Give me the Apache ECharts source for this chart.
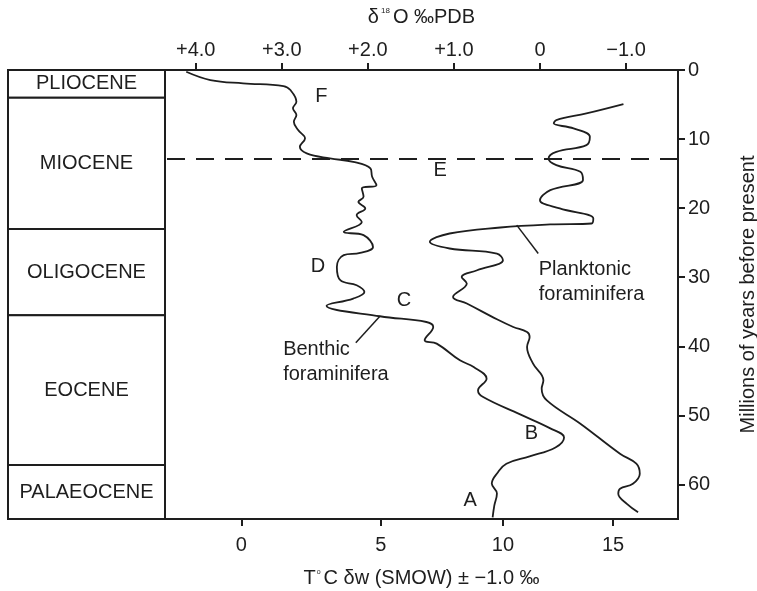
<!DOCTYPE html>
<html>
<head>
<meta charset="utf-8">
<script src="https://cdn.jsdelivr.net/npm/echarts@6/dist/echarts.min.js"></script>
<style>
  html, body { margin: 0; padding: 0; background: #fff; }
  #chart { width: 757px; height: 591px; }
</style>
</head>
<body>
<div id="chart"></div>
<script>
// Oxygen-isotope record (δ18O ‰ PDB) of foraminifera through the Cenozoic, age in Ma
const benthicO18 = [4.11, 3.83, 3.45, 2.98, 2.90, 2.83, 2.87, 2.83, 2.86, 2.81, 2.73, 2.79, 2.71, 2.44, 2.17, 1.97, 1.95, 1.90, 2.07, 2.05, 2.11, 2.03, 2.13, 2.07, 2.28, 2.05, 1.94, 2.09, 2.28, 2.36, 2.32, 2.13, 2.04, 2.17, 2.48, 1.86, 1.32, 1.24, 1.34, 1.20, 0.93, 0.77, 0.62, 0.72, 0.66, 0.23, -0.12, -0.28, -0.18, 0.12, 0.39, 0.49, 0.56, 0.50, 0.53, 0.55];
const benthicAge = [0.25, 1.45, 1.93, 2.32, 2.90, 4.59, 5.55, 6.52, 7.49, 8.70, 9.90, 11.12, 12.07, 12.80, 13.29, 14.25, 15.46, 16.67, 17.14, 18.36, 19.09, 20.04, 21.01, 21.99, 23.43, 23.91, 25.61, 26.48, 26.81, 28.51, 30.43, 31.16, 32.13, 33.09, 34.13, 35.65, 36.48, 37.20, 39.13, 39.61, 42.03, 43.00, 44.68, 46.38, 47.35, 49.86, 51.88, 53.19, 54.64, 55.94, 57.00, 58.26, 59.86, 61.30, 63.04, 64.78];

const planktonicO18 = [-0.97, -0.54, -0.19, -0.16, -0.39, -0.58, -0.54, -0.19, -0.10, -0.19, -0.47, -0.50, -0.12, 0.00, -0.23, -0.62, -0.60, -0.12, 0.46, 1.05, 1.28, 1.05, 0.50, 0.43, 0.73, 0.91, 0.85, 1.01, 0.85, 0.50, 0.31, 0.15, 0.12, 0.15, 0.08, -0.04, -0.02, -0.08, -0.47, -0.93, -1.12, -1.16, -1.08, -0.93, -0.91, -1.01, -1.14];
const planktonicAge = [4.93, 6.28, 7.25, 7.72, 8.45, 9.67, 10.87, 11.84, 12.80, 13.77, 14.74, 15.94, 17.39, 18.84, 20.04, 21.49, 22.22, 22.36, 22.80, 23.67, 24.88, 25.84, 26.57, 27.54, 28.99, 29.96, 30.91, 32.86, 33.81, 36.09, 37.20, 37.93, 38.65, 40.10, 42.51, 44.93, 46.13, 47.83, 51.20, 55.55, 57.00, 58.45, 59.90, 60.62, 61.35, 62.80, 64.01];

// Epochs (Ma)
const epochNames = ['PLIOCENE', 'MIOCENE', 'OLIGOCENE', 'EOCENE', 'PALAEOCENE'];
const epochStart = [0, 4, 23, 35.5, 57.2];
const epochEnd = [4, 23, 35.5, 57.2, 65];

// Axis ticks
const o18Ticks = [4, 3, 2, 1, 0, -1];
const o18TickLabels = ['+4.0', '+3.0', '+2.0', '+1.0', '0', '\u22121.0'];
const tempTickAt = [3.47, 1.85, 0.43, -0.85];   // δ18O equivalent of each temperature
const tempTickLabels = ['0', '5', '10', '15'];

// Lettered events and the mid-Miocene marker
const eventLetters = ['F', 'E', 'D', 'C', 'B', 'A'];
const eventO18 = [2.54, 1.16, 2.58, 1.58, 0.10, 0.81];
const eventAge = [3.9, 14.6, 28.4, 33.3, 52.6, 62.3];
const markerAge = 12.9;

// Curve captions with their leader lines
const captionText = ['Benthic\nforaminifera', 'Planktonic\nforaminifera'];
const captionO18 = [2.99, 0.02];
const captionAge = [42.2, 30.7];
const leaderO18 = [[1.86, 2.14], [0.27, 0.02]];
const leaderAge = [[35.65, 39.5], [22.46, 26.57]];

const INK = '#1e1e1e';
const FONT = '"Liberation Sans", Arial, sans-serif';
const pairs = (xs, ys) => xs.map((x, i) => [x, ys[i]]);
const nearest = (arr, v) => {
  let best = 0;
  arr.forEach((a, i) => { if (Math.abs(a - v) < Math.abs(arr[best] - v)) best = i; });
  return best;
};

const X_MIN = -1.604, X_MAX = 4.357;
const chart = echarts.init(document.getElementById('chart'), null, { renderer: 'canvas' });

const curveStyle = { color: INK, width: 1.8 };
const axisLineStyle = { show: true, onZero: false, lineStyle: { color: INK, width: 2 } };

chart.setOption({
  animation: false,
  backgroundColor: '#fff',
  textStyle: { fontFamily: FONT, color: INK },
  grid: [
    { left: 165, right: 79, top: 70, bottom: 72, outerBoundsMode: 'none', containLabel: false,
      show: true, borderColor: INK, borderWidth: 2, backgroundColor: 'transparent' },
    { left: 8, width: 157, top: 70, bottom: 72, outerBoundsMode: 'none', containLabel: false }
  ],
  xAxis: [
    {
      gridIndex: 0, type: 'value', position: 'top', inverse: true, min: X_MIN, max: X_MAX,
      axisLine: axisLineStyle,
      axisTick: { show: true, length: 7, lineStyle: { color: INK, width: 2 }, customValues: o18Ticks },
      axisLabel: {
        show: true, margin: 10, fontSize: 20, color: INK, fontFamily: FONT,
        customValues: o18Ticks,
        formatter: v => o18TickLabels[nearest(o18Ticks, v)]
      },
      splitLine: { show: false },
      name: '{a|\u03b4}{s|18}{a|O \u2030PDB}',
      nameLocation: 'middle', nameGap: 43,
      nameTextStyle: {
        rich: {
          a: { fontSize: 20, color: INK, fontFamily: FONT },
          s: { fontSize: 8, color: INK, fontFamily: FONT, padding: [0, 3, 12, 2] }
        }
      }
    },
    {
      gridIndex: 0, type: 'value', position: 'bottom', inverse: true, min: X_MIN, max: X_MAX,
      axisLine: axisLineStyle,
      axisTick: { show: true, length: 7, lineStyle: { color: INK, width: 2 }, customValues: tempTickAt },
      axisLabel: {
        show: true, margin: 16, fontSize: 20, color: INK, fontFamily: FONT,
        customValues: tempTickAt,
        formatter: v => tempTickLabels[nearest(tempTickAt, v)]
      },
      splitLine: { show: false },
      name: '{a|T}{s|o}{a|C \u03b4w (SMOW) \u00b1 \u22121.0 \u2030}',
      nameLocation: 'middle', nameGap: 49,
      nameTextStyle: {
        rich: {
          a: { fontSize: 20, color: INK, fontFamily: FONT },
          s: { fontSize: 7, color: INK, fontFamily: FONT, padding: [0, 3, 12, 1] }
        }
      }
    },
    { gridIndex: 1, type: 'value', min: 0, max: 1, show: false }
  ],
  yAxis: [
    {
      gridIndex: 0, type: 'value', position: 'right', inverse: true, min: 0, max: 65, interval: 10,
      axisLine: axisLineStyle,
      axisTick: { show: true, length: 7, lineStyle: { color: INK, width: 2 } },
      axisLabel: { show: true, margin: 10, fontSize: 20, color: INK, fontFamily: FONT,
        showMaxLabel: false },
      splitLine: { show: false },
      name: 'Millions of years before present',
      nameLocation: 'middle', nameGap: 60, nameRotate: 90,
      nameTextStyle: { fontSize: 20, color: INK, fontFamily: FONT }
    },
    { gridIndex: 1, type: 'value', inverse: true, min: 0, max: 65, show: false }
  ],
  series: [
    {
      name: 'Benthic foraminifera', type: 'line', xAxisIndex: 0, yAxisIndex: 0,
      data: pairs(benthicO18, benthicAge), showSymbol: false, symbol: 'none',
      smooth: 0.4, lineStyle: curveStyle,
      markLine: {
        silent: true, symbol: 'none', label: { show: false },
        lineStyle: { color: INK, width: 2, type: [18, 11] },
        data: [{ yAxis: markerAge }]
      }
    },
    {
      name: 'Planktonic foraminifera', type: 'line', xAxisIndex: 0, yAxisIndex: 0,
      data: pairs(planktonicO18, planktonicAge), showSymbol: false, symbol: 'none',
      smooth: 0.4, lineStyle: curveStyle
    },
    ...leaderO18.map((xs, i) => ({
      type: 'line', xAxisIndex: 0, yAxisIndex: 0, data: pairs(xs, leaderAge[i]),
      showSymbol: false, symbol: 'none', lineStyle: { color: INK, width: 1.5 }
    })),
    {
      type: 'scatter', xAxisIndex: 0, yAxisIndex: 0,
      data: eventLetters.map((t, i) => ({ value: [eventO18[i], eventAge[i]], name: t })),
      symbolSize: 1, itemStyle: { color: 'rgba(0,0,0,0)', opacity: 1 },
      label: { show: true, position: 'inside', formatter: p => p.name, fontSize: 20, color: INK, fontFamily: FONT }
    },
    {
      type: 'scatter', xAxisIndex: 0, yAxisIndex: 0,
      data: captionText.map((t, i) => ({ value: [captionO18[i], captionAge[i]], name: t })),
      symbolSize: 1, itemStyle: { color: 'rgba(0,0,0,0)', opacity: 1 },
      label: { show: true, position: 'right', distance: 0, align: 'left', verticalAlign: 'middle',
        formatter: p => p.name, fontSize: 20, lineHeight: 25, color: INK, fontFamily: FONT }
    },
    {
      type: 'custom', xAxisIndex: 2, yAxisIndex: 1,
      data: epochStart.map((s, i) => [s, epochEnd[i]]),
      encode: { y: [0, 1] },
      renderItem: (params, api) => {
        const p0 = api.coord([0, api.value(0)]);
        const p1 = api.coord([1, api.value(1)]);
        return {
          type: 'group',
          children: [
            { type: 'rect', shape: { x: p0[0], y: p0[1], width: p1[0] - p0[0], height: p1[1] - p0[1] },
              style: { fill: '#fff', stroke: INK, lineWidth: 2 } },
            { type: 'text', x: (p0[0] + p1[0]) / 2, y: (p0[1] + p1[1]) / 2,
              style: { text: epochNames[params.dataIndex], align: 'center', verticalAlign: 'middle',
                fontSize: 20, fontFamily: FONT, fill: INK } }
          ]
        };
      }
    }
  ]
});
</script>
</body>
</html>
